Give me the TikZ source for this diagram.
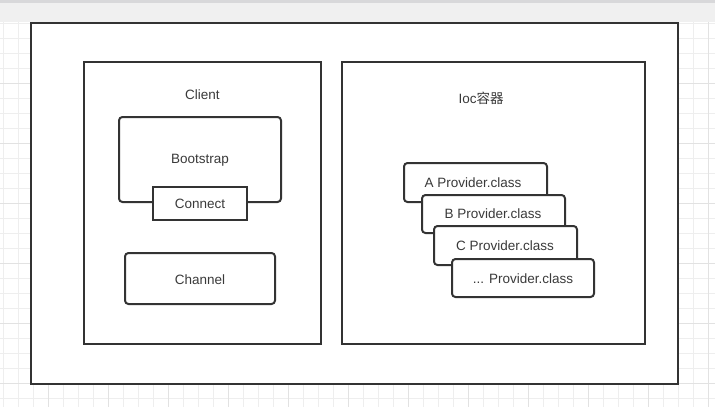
\documentclass[tikz,border=0pt]{standalone}
\usepackage{fontspec}
\setmainfont{Liberation Sans}
\newfontfamily\cjk{Noto Sans CJK SC}
\definecolor{ink}{HTML}{333333}
\definecolor{txt}{HTML}{3A3A3A}
\definecolor{gridminor}{HTML}{EEEEEE}
\definecolor{gridmajor}{HTML}{E2E2E2}
\definecolor{topband}{HTML}{F0F0F0}
\definecolor{topstrip}{HTML}{D8D8DA}
\begin{document}
\begin{tikzpicture}[x=1pt,y=-1pt,
  box/.style={draw=ink,line width=2pt,fill=white},
  rbox/.style={draw=ink,line width=2pt,fill=white,rounded corners=3.5pt},
  lbl/.style={text=txt,font=\fontsize{13.5}{16}\selectfont,inner sep=0pt}]
\useasboundingbox (0,0) rectangle (715,407);
% background
\fill[white] (0,0) rectangle (715,407);
\fill[topband] (0,0) rectangle (715,22);
\fill[topstrip] (0,0) rectangle (715,3);
% grid
\foreach \x in {3,18,...,715} \draw[gridminor,line width=1pt] (\x,22) -- (\x,407);
\foreach \y in {23,38,...,407} \draw[gridminor,line width=1pt] (0,\y) -- (715,\y);
\foreach \x in {48,108,...,715} \draw[gridmajor,line width=1pt] (\x,22) -- (\x,407);
\foreach \y in {83,143,...,407} \draw[gridmajor,line width=1pt] (0,\y) -- (715,\y);
% outer
\draw[box] (31,23) rectangle (678,384);
% client container
\draw[box] (84,62) rectangle (321,344);
\node[lbl] (client) at (202.5,95) {Client};
\draw[rbox] (119,117) rectangle (281,202);
\node[lbl] (boot) at (200,160) {Bootstrap};
\draw[box] (153,187) rectangle (247,220);
\node[lbl] (conn) at (200,204) {Connect};
\draw[rbox] (125,253) rectangle (275,304);
\node[lbl] (chan) at (200,279.5) {Channel};
% ioc container
\draw[box] (342,62) rectangle (645,344);
\node[lbl] (ioc) at (481,98) {Ioc{\cjk 容器}};
\draw[rbox] (404,163) rectangle (547,202);
\node[lbl] (pa) at (473,183) {A Provider.class};
\draw[rbox] (422,195) rectangle (565,233);
\node[lbl] (pb) at (493,214) {B Provider.class};
\draw[rbox] (434,226) rectangle (577,265);
\node[lbl] (pc) at (505,246) {C Provider.class};
\draw[rbox] (452,259) rectangle (594,297);
\node[lbl] (pd) at (523,279) {... Provider.class};
\end{tikzpicture}
\end{document}
